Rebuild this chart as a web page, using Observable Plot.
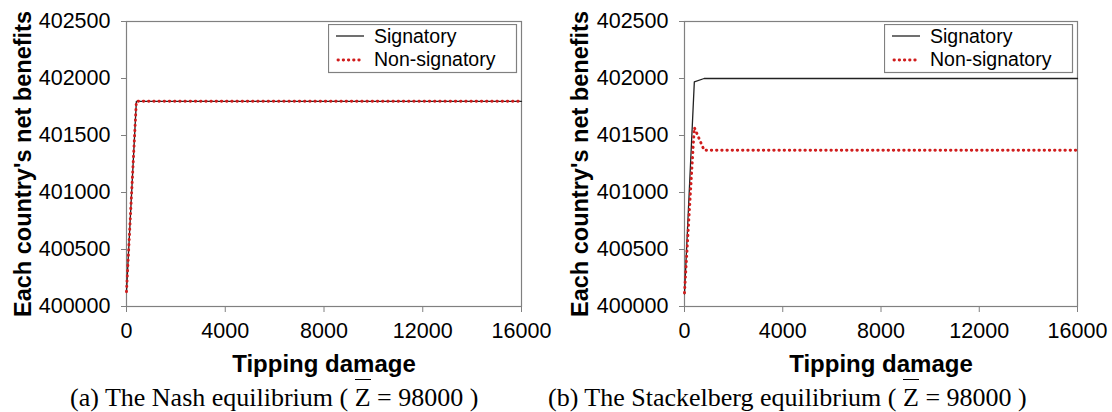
<!DOCTYPE html>
<html>
<head>
<meta charset="utf-8">
<script src="https://cdn.jsdelivr.net/npm/d3@7"></script>
<script src="https://cdn.jsdelivr.net/npm/@observablehq/plot@0.6"></script>
<style>
  html, body { margin: 0; padding: 0; background: #fff; }
  #wrap { position: relative; width: 1112px; height: 412px; overflow: hidden; font-family: "Liberation Sans", Arial, sans-serif; }
  .panel { position: absolute; top: 0; width: 556px; height: 380px; }
  .legend { position: absolute; left: 328px; top: 24px; }
  .caption { position: absolute; top: 383px; font-family: "Liberation Serif", "Times New Roman", serif; font-size: 26px; line-height: 30px; white-space: nowrap; color: #000; }
  .zbar { display: inline-block; line-height: 22px; padding-top: 7px; margin-top: -12px; border-top: 1.6px solid #000; }
  .panel svg g[aria-label="y-axis tick"] path, .panel svg g[aria-label="x-axis tick"] path { stroke: #808080; }
</style>
</head>
<body>
<div id="wrap">
  <div class="panel" id="pa" style="left:0px"></div>
  <div class="panel" id="pb" style="left:556px"></div>
  <div class="caption" style="left:70px">(a) The Nash equilibrium ( <span class="zbar">Z</span> = 98000 )</div>
  <div class="caption" style="left:548px">(b) The Stackelberg equilibrium ( <span class="zbar">Z</span> = 98000 )</div>
</div>
<script>
// Data
const tippingDamage = [0, 400, 800, 16000];
const nashSignatory = [400130, 401800, 401800, 401800];
const nashNonSignatory = [400130, 401800, 401800, 401800];
const stackSignatory = [400110, 401970, 402000, 402000];
const stackNonSignatory = [400120, 401570, 401370, 401370];

const xTicks = [0, 4000, 8000, 12000, 16000];
const yTicks = [400000, 400500, 401000, 401500, 402000, 402500];
const seriesNames = ["Signatory", "Non-signatory"];
const yLabel = "Each country's net benefits";
const xLabel = "Tipping damage";

const sigColor = "#222";
const nonColor = "#d01c1c";
const dotDash = "0.4,4.8";

function makePanel(sig, non, marginLeft, labelDx) {
  const sigData = tippingDamage.map((x, i) => ({x, y: sig[i]}));
  const nonData = tippingDamage.map((x, i) => ({x, y: non[i]}));
  return Plot.plot({
    width: 556,
    height: 380,
    marginLeft: marginLeft,
    marginRight: 35,
    marginTop: 21,
    marginBottom: 74,
    x: {domain: [0, 16000]},
    y: {domain: [400000, 402500]},
    style: {fontFamily: "'Liberation Sans', Arial, sans-serif", fontSize: "21.5px", color: "#000", background: "transparent", overflow: "visible"},
    marks: [
      Plot.frame({stroke: "#808080", strokeWidth: 1.2}),
      Plot.axisX({ticks: xTicks, tickSize: 6, tickPadding: 10, label: null, tickFormat: d => String(d), fontSize: 21.5}),
      Plot.axisY({ticks: yTicks, tickSize: 5, tickPadding: 11, label: null, tickFormat: d => String(d), fontSize: 21.5}),
      Plot.text([yLabel], {text: d => d, frameAnchor: "left", rotate: -90, dx: labelDx, textAnchor: "middle", lineAnchor: "middle", fontSize: 23.5, fontWeight: "bold"}),
      Plot.text([xLabel], {text: d => d, frameAnchor: "bottom", dy: 58, textAnchor: "middle", lineAnchor: "middle", fontSize: 24, fontWeight: "bold"}),
      Plot.line(sigData, {x: "x", y: "y", stroke: sigColor, strokeWidth: 1.3}),
      Plot.line(nonData, {x: "x", y: "y", stroke: nonColor, strokeWidth: 2.9, strokeDasharray: dotDash, strokeLinecap: "round"})
    ]
  });
}

function makeLegend() {
  const ns = "http://www.w3.org/2000/svg";
  const svg = document.createElementNS(ns, "svg");
  svg.setAttribute("width", 190);
  svg.setAttribute("height", 50);
  const rect = document.createElementNS(ns, "rect");
  rect.setAttribute("x", 0.5); rect.setAttribute("y", 0.5);
  rect.setAttribute("width", 188); rect.setAttribute("height", 48);
  rect.setAttribute("fill", "#fff"); rect.setAttribute("stroke", "#808080"); rect.setAttribute("stroke-width", 1.2);
  svg.appendChild(rect);
  const styles = [
    {stroke: sigColor, width: 1.3, dash: null, cap: "butt", x1: 8, x2: 36, cy: 12, base: 19},
    {stroke: nonColor, width: 2.9, dash: dotDash, cap: "round", x1: 10, x2: 36, cy: 36, base: 42}
  ];
  seriesNames.forEach((name, i) => {
    const s = styles[i];
    const ln = document.createElementNS(ns, "line");
    ln.setAttribute("x1", s.x1); ln.setAttribute("x2", s.x2);
    ln.setAttribute("y1", s.cy); ln.setAttribute("y2", s.cy);
    ln.setAttribute("stroke", s.stroke); ln.setAttribute("stroke-width", s.width);
    ln.setAttribute("stroke-linecap", s.cap);
    if (s.dash) ln.setAttribute("stroke-dasharray", s.dash);
    svg.appendChild(ln);
    const t = document.createElementNS(ns, "text");
    t.setAttribute("x", 46); t.setAttribute("y", s.base);
    t.setAttribute("font-family", "'Liberation Sans', Arial, sans-serif");
    t.setAttribute("font-size", "19.5px");
    t.textContent = name;
    svg.appendChild(t);
  });
  const div = document.createElement("div");
  div.className = "legend";
  div.appendChild(svg);
  return div;
}

const pa = document.getElementById("pa");
pa.appendChild(makePanel(nashSignatory, nashNonSignatory, 126, -103));
pa.appendChild(makeLegend());
const pb = document.getElementById("pb");
pb.appendChild(makePanel(stackSignatory, stackNonSignatory, 128, -104));
pb.appendChild(makeLegend());
</script>
</body>
</html>
